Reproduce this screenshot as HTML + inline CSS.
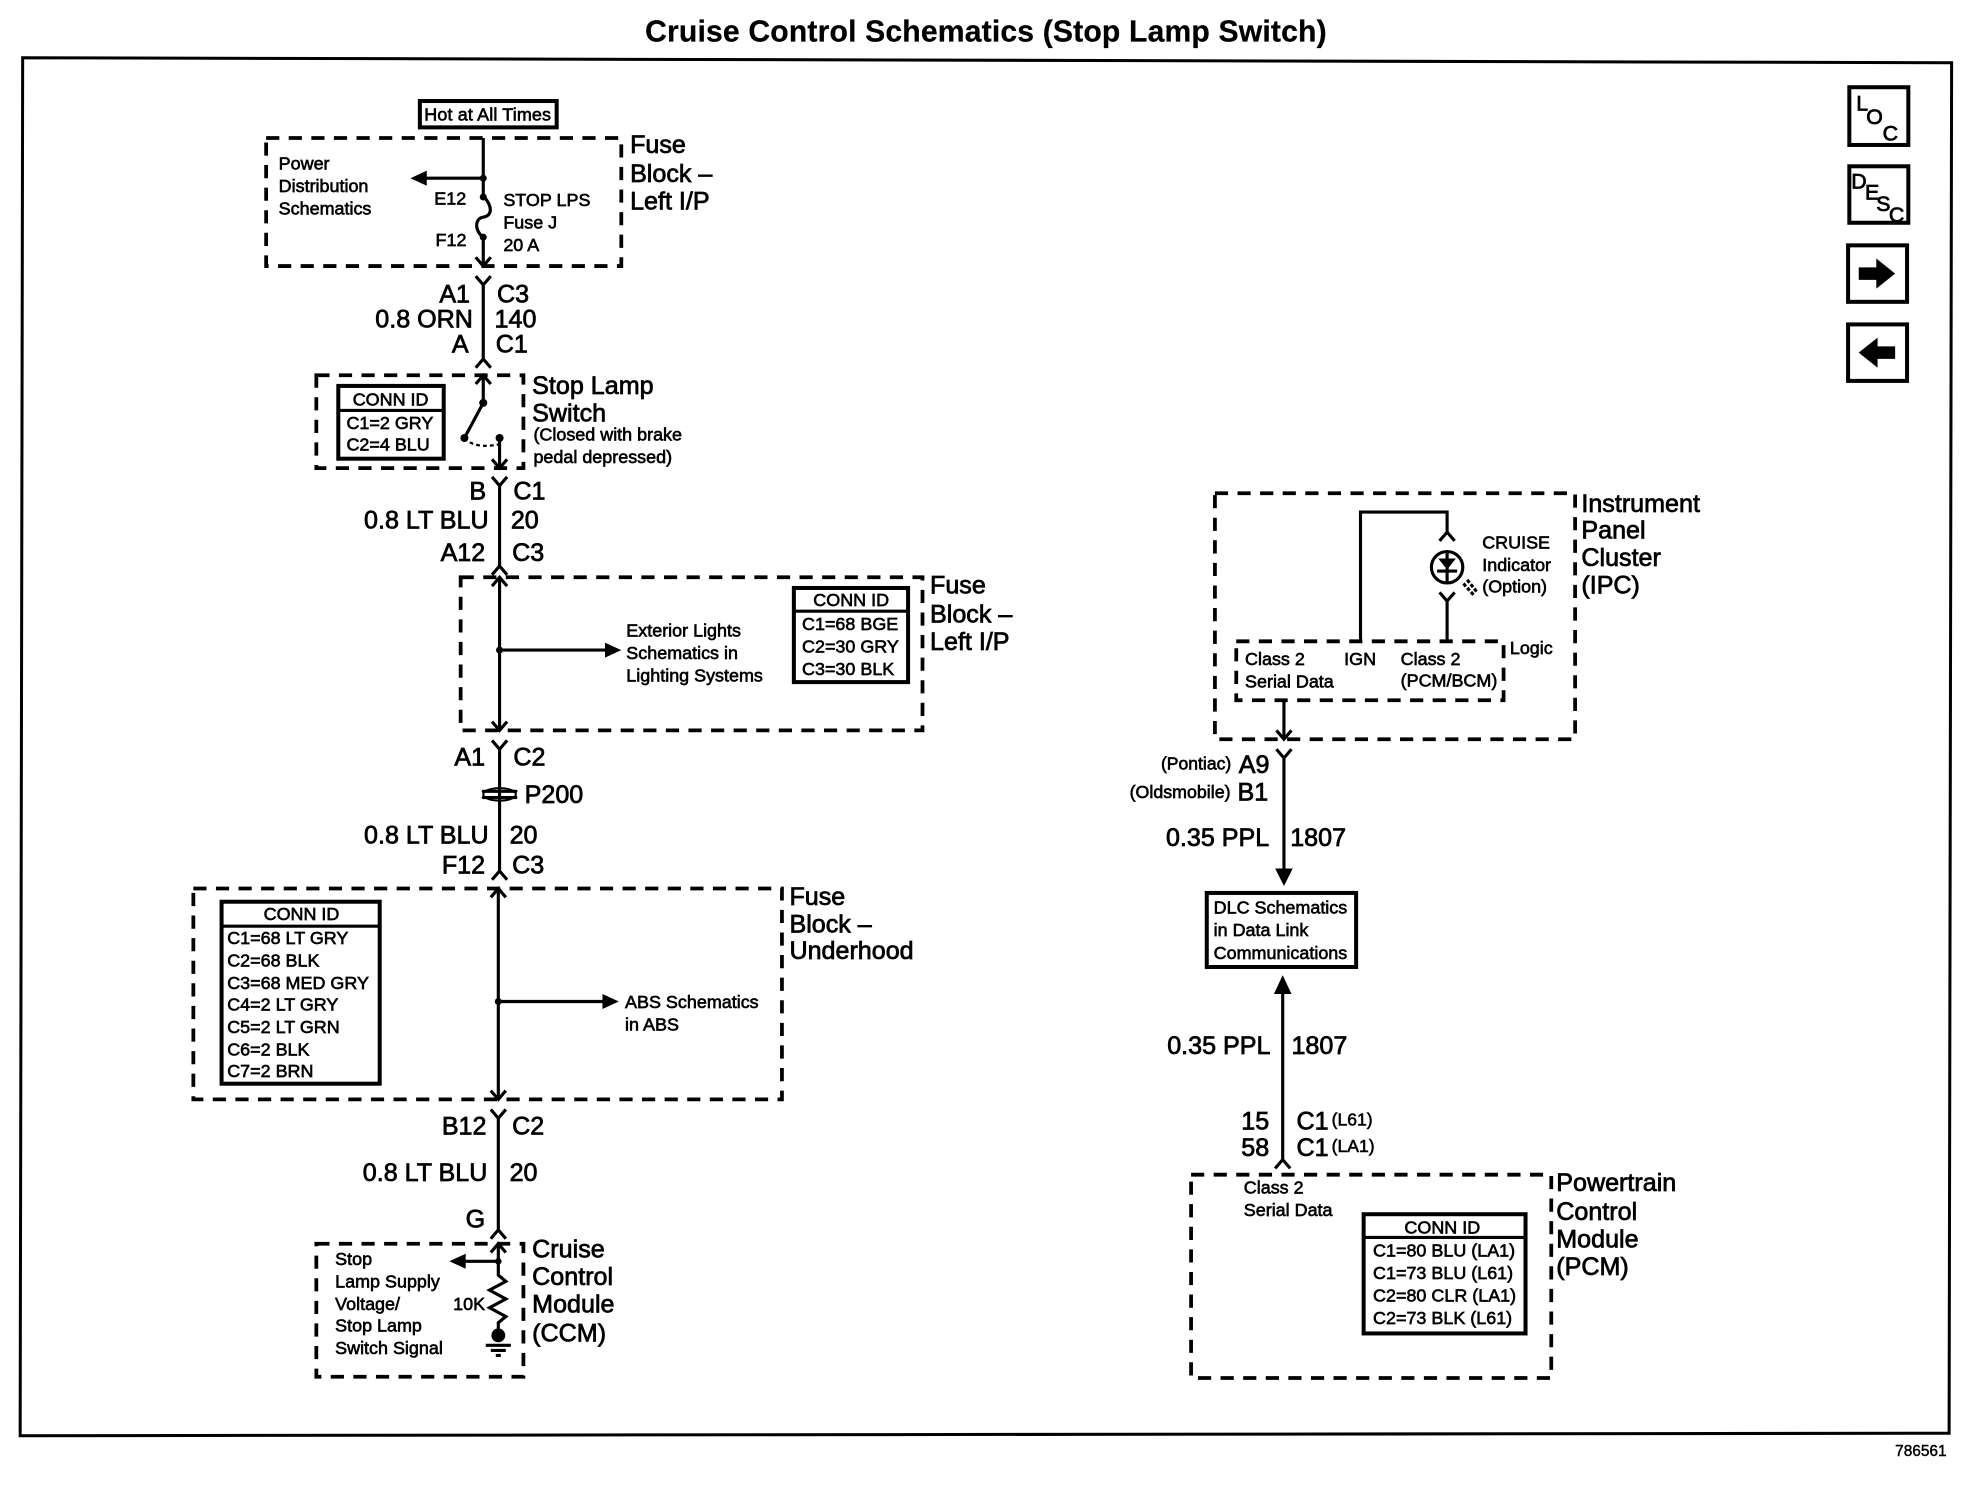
<!DOCTYPE html>
<html><head><meta charset="utf-8"><title>Cruise Control Schematics (Stop Lamp Switch)</title>
<style>
html,body{margin:0;padding:0;background:#fff}
svg{display:block}
text{font-family:"Liberation Sans",sans-serif;fill:#000;stroke:#000;stroke-width:.6}
.s{font-size:14.3px;stroke-width:.5}.b{font-size:20px}.w{font-size:20px}
.k{fill:none;stroke:#000;stroke-width:2.5}
.d{fill:none;stroke:#000;stroke-width:3;stroke-dasharray:10.5 7.5}
.t{fill:none;stroke:#000;stroke-width:3.2}
.f{fill:#000;stroke:none}
</style></head><body>
<svg xmlns="http://www.w3.org/2000/svg" width="1968" height="1504" viewBox="0 0 1568 1198.4">
<rect width="1568" height="1198.4" fill="#fff"/>
<text x="514" y="33" font-size="24" font-weight="bold" textLength="543" style="stroke-width:.2">Cruise Control Schematics (Stop Lamp Switch)</text>
<path d="M18 46 L1555 50 L1553 1142 L16 1144 Z" fill="none" stroke="#000" stroke-width="2.4"/>
<text x="1510" y="1160" font-size="12.3" style="stroke-width:.35">786561</text>

<!-- side icons -->
<rect x="1473.5" y="69.5" width="47" height="46" class="t"/>
<text x="1479" y="88" font-size="17">L</text><text x="1487" y="99" font-size="17">O</text><text x="1500" y="112" font-size="17">C</text>
<rect x="1473.5" y="132.5" width="47" height="45" class="t"/>
<text x="1475" y="150" font-size="17">D</text><text x="1486" y="159" font-size="17">E</text><text x="1495" y="168" font-size="17">S</text><text x="1505" y="177" font-size="17">C</text>
<rect x="1472.5" y="195.5" width="47" height="45" class="t"/>
<path class="f" d="M1481 213 H1495 V206 L1510 218 L1495 230 V223 H1481Z"/>
<rect x="1472.5" y="258.5" width="47" height="45" class="t"/>
<path class="f" d="M1510 276 H1496 V269 L1481 281 L1496 293 V286 H1510Z"/>

<!-- Hot at all times -->
<rect x="334.5" y="80.5" width="109" height="21" class="t"/>
<text x="338" y="96" class="s" textLength="101">Hot at All Times</text>

<!-- Fuse block 1 -->
<rect x="212" y="110" width="283" height="102" class="d"/>
<path class="k" d="M385 110 V156 C393 165 392 172 385 173 C378 174 378 184 385 189 V212 M379 205 L385 212 L391 205"/>
<circle cx="385" cy="142" r="2.8" class="f"/><circle cx="385" cy="157" r="2.8" class="f"/><circle cx="385" cy="189" r="2.8" class="f"/>
<path class="k" d="M385 142 H335"/><path class="f" d="M327 142 L340 136 V148Z"/>
<text x="222" y="135" class="s">Power</text><text x="222" y="153" class="s">Distribution</text><text x="222" y="171" class="s">Schematics</text>
<text x="346" y="163" class="s">E12</text><text x="347" y="196" class="s">F12</text>
<text x="401" y="164" class="s">STOP LPS</text><text x="401" y="182" class="s">Fuse J</text><text x="401" y="200" class="s">20 A</text>
<text x="502" y="122" class="b">Fuse</text><text x="502" y="145" class="b">Block –</text><text x="502" y="167" class="b">Left I/P</text>

<path class="k" d="M379 220 L385 227 L391 220 M385 227 V287 M379 293 L385 286 L391 293"/>
<text x="350" y="241" class="w">A1</text><text x="396" y="241" class="w">C3</text>
<text x="299" y="261" class="w">0.8 ORN</text><text x="394" y="261" class="w">140</text>
<text x="360" y="281" class="w">A</text><text x="395" y="281" class="w">C1</text>

<!-- Stop Lamp Switch -->
<rect x="252" y="299" width="165" height="74" class="d"/>
<path class="k" d="M379 306 L385 299 L391 306 M385 299 V321 L370 349 M398 349 V373 M392 366 L398 373 L404 366"/>
<path fill="none" stroke="#000" stroke-width="1.8" stroke-dasharray="3 2.5" d="M370 349 Q378 358 398 354"/>
<circle cx="385" cy="321" r="3.2" class="f"/><circle cx="370" cy="349" r="3.2" class="f"/><circle cx="398" cy="349" r="3.2" class="f"/>
<rect x="269.5" y="307.5" width="84" height="58" class="t"/><path class="k" d="M269 327 H353"/>
<text x="281" y="323" class="s">CONN ID</text><text x="276" y="342" class="s">C1=2 GRY</text><text x="276" y="359" class="s">C2=4 BLU</text>
<text x="424" y="314" class="b">Stop Lamp</text><text x="424" y="336" class="b">Switch</text>
<text x="425" y="351" font-size="14.3" style="stroke-width:.5">(Closed with brake</text><text x="425" y="369" font-size="14.3" style="stroke-width:.5">pedal depressed)</text>

<path class="k" d="M392 380 L398 387 L404 380 M398 387 V452 M392 458 L398 451 L404 458"/>
<text x="374" y="398" class="w">B</text><text x="409" y="398" class="w">C1</text>
<text x="290" y="421" class="w">0.8 LT BLU</text><text x="407" y="421" class="w">20</text>
<text x="351" y="447" class="w">A12</text><text x="408" y="447" class="w">C3</text>

<!-- Fuse Block 2 -->
<rect x="367" y="460" width="368" height="122" class="d"/>
<path class="k" d="M392 467 L398 460 L404 467 M398 460 V582 M392 575 L398 582 L404 575 M398 518 H485"/>
<circle cx="398" cy="518" r="2.8" class="f"/><path class="f" d="M495 518 L482 512 V524Z"/>
<text x="499" y="507" class="s">Exterior Lights</text><text x="499" y="525" class="s">Schematics in</text><text x="499" y="543" class="s">Lighting Systems</text>
<rect x="632.5" y="468.5" width="91" height="75" class="t"/><path class="k" d="M632 487 H724"/>
<text x="648" y="483" class="s">CONN ID</text><text x="639" y="502" class="s">C1=68 BGE</text><text x="639" y="520" class="s">C2=30 GRY</text><text x="639" y="538" class="s">C3=30 BLK</text>
<text x="741" y="473" class="b">Fuse</text><text x="741" y="496" class="b">Block –</text><text x="741" y="518" class="b">Left I/P</text>

<path class="k" d="M392 590 L398 597 L404 590 M398 597 V695 M392 701 L398 694 L404 701"/>
<text x="362" y="610" class="w">A1</text><text x="409" y="610" class="w">C2</text>
<path class="k" d="M385 630.5 H411 M385 635.5 H411" stroke-linecap="round"/><ellipse cx="398" cy="633" rx="13" ry="5" fill="none" stroke="#000" stroke-width="1.6"/>
<text x="418" y="640" class="w">P200</text>
<text x="290" y="672" class="w">0.8 LT BLU</text><text x="406" y="672" class="w">20</text>
<text x="352" y="696" class="w">F12</text><text x="408" y="696" class="w">C3</text>

<!-- Fuse Block Underhood -->
<rect x="154" y="708" width="469" height="168" class="d"/>
<path class="k" d="M391 715 L397 708 L403 715 M397 708 V876 M391 869 L397 876 L403 869 M397 798 H483"/>
<circle cx="397" cy="798" r="2.8" class="f"/><path class="f" d="M493 798 L480 792 V804Z"/>
<text x="498" y="803" class="s">ABS Schematics</text><text x="498" y="821" class="s">in ABS</text>
<rect x="176.5" y="718.5" width="126" height="145" class="t"/><path class="k" d="M176 738 H303"/>
<text x="210" y="733" class="s">CONN ID</text>
<text x="181" y="752" class="s">C1=68 LT GRY</text><text x="181" y="770" class="s">C2=68 BLK</text><text x="181" y="788" class="s">C3=68 MED GRY</text><text x="181" y="805" class="s">C4=2 LT GRY</text><text x="181" y="823" class="s">C5=2 LT GRN</text><text x="181" y="841" class="s">C6=2 BLK</text><text x="181" y="858" class="s">C7=2 BRN</text>
<text x="629" y="721" class="b">Fuse</text><text x="629" y="743" class="b">Block –</text><text x="629" y="764" class="b">Underhood</text>

<path class="k" d="M391 884 L397 891 L403 884 M397 891 V981 M391 987 L397 980 L403 987"/>
<text x="352" y="904" class="w">B12</text><text x="408" y="904" class="w">C2</text>
<text x="289" y="941" class="w">0.8 LT BLU</text><text x="406" y="941" class="w">20</text>
<text x="371" y="978" class="w">G</text>

<!-- CCM -->
<rect x="252" y="991" width="165" height="106" class="d"/>
<path class="k" d="M391 998 L397 991 L403 998 M397 991 V1016 L403 1021 L390 1028 L403 1035 L390 1042 L403 1049 L397 1054 V1065 M397 1005 H368"/>
<circle cx="397" cy="1005" r="2.6" class="f"/><path class="f" d="M358 1005 L371 999 V1011Z"/>
<circle cx="397" cy="1064" r="5.5" class="f"/>
<path class="k" d="M387 1072 H407 M391 1076 H403 M395 1080 H399"/>
<text x="267" y="1008" class="s">Stop</text><text x="267" y="1026" class="s">Lamp Supply</text><text x="267" y="1044" class="s">Voltage/</text><text x="267" y="1061" class="s">Stop Lamp</text><text x="267" y="1079" class="s">Switch Signal</text>
<text x="361" y="1044" class="s">10K</text>
<text x="424" y="1002" class="b">Cruise</text><text x="424" y="1024" class="b">Control</text><text x="424" y="1046" class="b">Module</text><text x="424" y="1069" class="b">(CCM)</text>

<!-- IPC -->
<rect x="968" y="393" width="287" height="196" class="d"/>
<path class="k" d="M1084 511 V408 H1153 V424 M1147 431 L1153 424 L1159 431 M1147 472 L1153 479 L1159 472 M1153 479 V511"/>
<circle cx="1153" cy="452" r="12.5" class="k"/>
<path class="f" d="M1146 445 H1160 L1153 454Z"/><path class="k" d="M1145 455 H1161 M1153 440 V465"/>
<path class="k" stroke-width="1.8" stroke-dasharray="3 1.5" d="M1166 465 L1175 475 M1169 462 L1177 472"/>
<text x="1181" y="437" class="s">CRUISE</text><text x="1181" y="455" class="s">Indicator</text><text x="1181" y="472" class="s">(Option)</text>
<rect x="985" y="511" width="213" height="47" class="d"/>
<text x="992" y="530" class="s">Class 2</text><text x="992" y="548" class="s">Serial Data</text><text x="1071" y="530" class="s">IGN</text><text x="1116" y="530" class="s">Class 2</text><text x="1116" y="547" class="s">(PCM/BCM)</text>
<text x="1203" y="521" class="s">Logic</text>
<path class="k" d="M1023 558 V589 M1017 582 L1023 589 L1029 582 M1017 597 L1023 604 L1029 597 M1023 604 V695"/>
<path class="f" d="M1023 706 L1016 692 H1030Z"/>
<text x="1260" y="408" class="b">Instrument</text><text x="1260" y="429" class="b">Panel</text><text x="1260" y="451" class="b">Cluster</text><text x="1260" y="473" class="b">(IPC)</text>
<text x="925" y="613" font-size="14" style="stroke-width:.5">(Pontiac)</text><text x="987" y="616" class="w">A9</text>
<text x="900" y="636" font-size="14.2" style="stroke-width:.5">(Oldsmobile)</text><text x="986" y="638" class="w">B1</text>
<text x="929" y="674" class="w">0.35 PPL</text><text x="1028" y="674" class="w">1807</text>

<!-- DLC -->
<rect x="961.5" y="711.5" width="119" height="59" class="t"/>
<text x="967" y="728" class="s">DLC Schematics</text><text x="967" y="746" class="s">in Data Link</text><text x="967" y="764" class="s">Communications</text>

<path class="f" d="M1022 777 L1015 792 H1029Z"/>
<path class="k" d="M1022 790 V925 M1016 931 L1022 924 L1028 931"/>
<text x="930" y="840" class="w">0.35 PPL</text><text x="1029" y="840" class="w">1807</text>
<text x="989" y="900" class="w">15</text><text x="1033" y="900" class="w">C1</text><text x="1061" y="897" font-size="14" style="stroke-width:.45">(L61)</text>
<text x="989" y="921" class="w">58</text><text x="1033" y="921" class="w">C1</text><text x="1061" y="918" font-size="14" style="stroke-width:.45">(LA1)</text>

<!-- PCM -->
<rect x="949" y="936" width="287" height="162" class="d"/>
<text x="991" y="951" class="s">Class 2</text><text x="991" y="969" class="s">Serial Data</text>
<rect x="1086.5" y="967.5" width="129" height="95" class="t"/><path class="k" d="M1086 986 H1216"/>
<text x="1119" y="983" class="s">CONN ID</text>
<text x="1094" y="1001" class="s">C1=80 BLU (LA1)</text><text x="1094" y="1019" class="s">C1=73 BLU (L61)</text><text x="1094" y="1037" class="s">C2=80 CLR (LA1)</text><text x="1094" y="1055" class="s">C2=73 BLK (L61)</text>
<text x="1240" y="949" class="b">Powertrain</text><text x="1240" y="972" class="b">Control</text><text x="1240" y="994" class="b">Module</text><text x="1240" y="1016" class="b">(PCM)</text>
</svg>
</body></html>
